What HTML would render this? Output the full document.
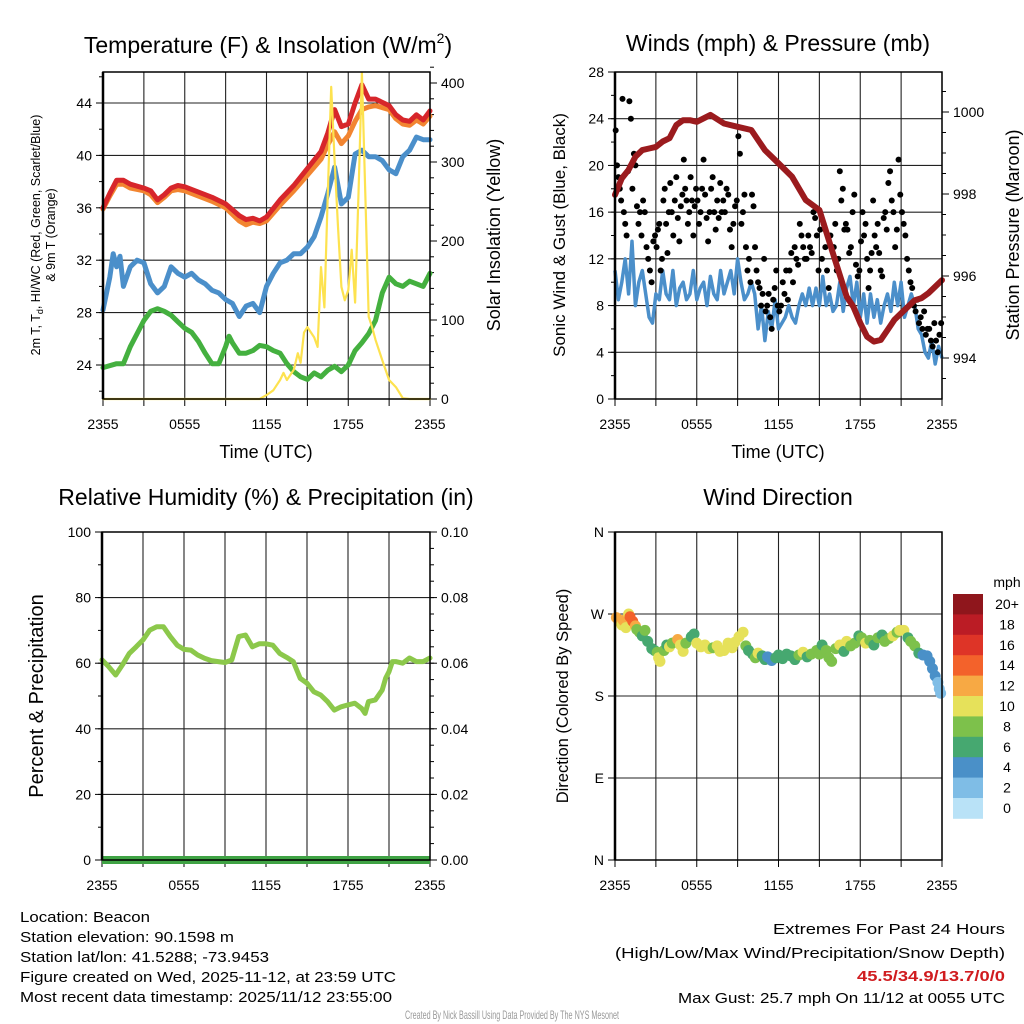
<!DOCTYPE html>
<html><head><meta charset="utf-8"><title>Beacon Mesonet Meteogram</title>
<style>
html,body{margin:0;padding:0;background:#fff;}
svg{display:block;font-family:"Liberation Sans",Arial,sans-serif;}
.tk{font-size:14px;fill:#000;}
.ttl{font-size:23px;fill:#000;}
.ax{font-size:18px;fill:#000;}
.ft{font-size:14.5px;fill:#000;}
</style></head>
<body>
<svg id="chart" width="1024" height="1024" viewBox="0 0 1024 1024" xmlns="http://www.w3.org/2000/svg">
<rect width="1024" height="1024" fill="#fff"/>
<text class="ttl" x="268" y="53" text-anchor="middle">Temperature (F) &amp; Insolation (W/m<tspan font-size="14" dy="-10">2</tspan><tspan dy="10">)</tspan></text>
<text class="ttl" x="778" y="51" text-anchor="middle">Winds (mph) &amp; Pressure (mb)</text>
<text class="ttl" x="266" y="505" text-anchor="middle">Relative Humidity (%) &amp; Precipitation (in)</text>
<text class="ttl" x="778" y="505" text-anchor="middle">Wind Direction</text>

<text class="ax" x="266" y="458" text-anchor="middle">Time (UTC)</text>
<text class="ax" x="778" y="458" text-anchor="middle">Time (UTC)</text>

<text font-size="12.5" text-anchor="middle" transform="translate(40,235) rotate(-90)">2m T, T<tspan font-size="9" dy="3">d</tspan><tspan dy="-3">, HI/WC (Red, Green, Scarlet/Blue)</tspan></text>
<text font-size="12.5" text-anchor="middle" transform="translate(55,235) rotate(-90)">&amp; 9m T (Orange)</text>
<text class="ax" text-anchor="middle" transform="translate(500,235) rotate(-90)">Solar Insolation (Yellow)</text>
<text font-size="17" text-anchor="middle" transform="translate(565,235) rotate(-90)">Sonic Wind &amp; Gust (Blue, Black)</text>
<text class="ax" text-anchor="middle" transform="translate(1019,235) rotate(-90)">Station Pressure (Maroon)</text>
<text font-size="20" text-anchor="middle" transform="translate(43,696) rotate(-90)">Percent &amp; Precipitation</text>
<text font-size="16.5" text-anchor="middle" transform="translate(568,696) rotate(-90)">Direction (Colored By Speed)</text>

<g id="layer"></g>

<g>
<text class="ft" x="20" y="922" textLength="130" lengthAdjust="spacingAndGlyphs">Location: Beacon</text>
<text class="ft" x="20" y="942" textLength="214" lengthAdjust="spacingAndGlyphs">Station elevation: 90.1598 m</text>
<text class="ft" x="20" y="962" textLength="249" lengthAdjust="spacingAndGlyphs">Station lat/lon: 41.5288; -73.9453</text>
<text class="ft" x="20" y="982" textLength="376" lengthAdjust="spacingAndGlyphs">Figure created on Wed, 2025-11-12, at 23:59 UTC</text>
<text class="ft" x="20" y="1002" textLength="372" lengthAdjust="spacingAndGlyphs">Most recent data timestamp: 2025/11/12 23:55:00</text>
</g>
<g>
<text class="ft" x="1005" y="934" text-anchor="end" textLength="232" lengthAdjust="spacingAndGlyphs">Extremes For Past 24 Hours</text>
<text class="ft" x="1005" y="958" text-anchor="end" textLength="390" lengthAdjust="spacingAndGlyphs">(High/Low/Max Wind/Precipitation/Snow Depth)</text>
<text class="ft" x="1005" y="981" text-anchor="end" font-weight="bold" fill="#d01c1f" style="fill:#d01c1f" textLength="148" lengthAdjust="spacingAndGlyphs">45.5/34.9/13.7/0/0</text>
<text class="ft" x="1005" y="1003" text-anchor="end" textLength="327" lengthAdjust="spacingAndGlyphs">Max Gust: 25.7 mph On 11/12 at 0055 UTC</text>
</g>
<text x="512" y="1019" font-size="12" fill="#999" text-anchor="middle" textLength="214" lengthAdjust="spacingAndGlyphs">Created By Nick Bassill Using Data Provided By The NYS Mesonet</text>
</svg>
<script>
// ---------- data ----------
const timeTickLabels = ["2355","0555","1155","1755","2355"];
const tempTicks = [24,28,32,36,40,44];
const solarTicks = [0,100,200,300,400];
const windTicks = [0,4,8,12,16,20,24,28];
const pressTicks = [994,996,998,1000];
const rhTicks = [0,20,40,60,80,100];
const precipTicks = ["0.00","0.02","0.04","0.06","0.08","0.10"];
const dirTicks = ["N","E","S","W","N"];

const tempTimes = [0,0.5,1,1.5,2,3,3.5,4,4.5,5,5.5,6,7,8,9,10,10.5,11,11.5,12,13,14,15,16,16.5,17,17.5,18,18.5,19,19.5,20,21,21.5,22,22.5,23,23.5,24];
const temp2m = [36.0,37.1,38.1,38.1,37.8,37.5,37.3,36.6,37.0,37.5,37.7,37.6,37.2,36.8,36.3,35.4,35.1,35.2,35.0,35.3,36.6,37.7,39.0,40.3,41.7,43.5,42.2,42.4,44.0,45.4,44.3,44.3,43.8,43.1,42.7,42.6,43.1,42.7,43.4];
const temp9m = [35.9,36.9,37.8,37.8,37.5,37.3,37.0,36.4,36.8,37.3,37.4,37.3,36.9,36.5,36.0,35.0,34.7,34.9,34.8,35.0,36.2,37.3,38.5,39.7,40.8,41.8,40.9,41.5,42.6,43.5,43.7,43.8,43.5,42.8,42.4,42.3,42.7,42.4,43.0];
const dewTimes = [0,0.5,0.75,1,1.25,1.5,2,2.5,3,3.5,4,4.5,5,5.5,6,6.5,7,7.5,8,8.5,9,9.5,10,10.5,11,11.5,12,12.5,13,13.5,14,14.5,15,15.5,16,16.5,17,17.5,18,18.5,19,19.5,20,20.5,21,21.5,22,22.5,23,23.5,24];
const dewpoint = [28.2,30.7,32.5,31.5,32.3,30.0,31.5,32.0,31.8,30.2,29.5,30.0,31.5,31.0,30.7,31.0,30.5,30.2,29.7,29.5,29.0,28.7,27.7,28.5,28.7,28.0,30.0,31.0,31.8,32.0,32.5,32.5,33.0,33.8,35.3,37.1,39.1,36.3,36.8,40.1,40.4,39.9,39.9,39.6,38.9,38.6,39.9,40.4,41.4,41.2,41.2];
const chillTimes = [0,1,1.5,2,2.5,3,3.5,4,4.5,5,5.5,6,6.5,7,7.5,8,8.5,9,9.25,9.5,10,10.5,11,11.5,12,12.5,13,13.5,14,14.5,15,15.5,16,16.5,17,17.5,18,18.5,19,19.5,20,20.5,21,21.5,22,22.5,23,23.5,24];
const windChill = [23.8,24.1,24.1,25.4,26.4,27.4,28.1,28.3,28.1,27.8,27.3,26.8,26.5,25.8,24.9,24.1,24.1,25.4,26.2,25.7,24.9,24.9,25.1,25.5,25.4,25.1,24.9,24.1,23.5,23.1,22.9,23.4,23.1,23.6,23.9,23.5,24.0,25.1,25.7,26.4,27.4,29.5,30.7,30.2,30.0,30.4,30.2,30.0,31.0];
const solarTimes = [0,11.5,12,12.5,13,13.25,13.5,14,14.3,14.5,14.75,15,15.5,15.75,16,16.25,16.5,16.75,17,17.25,17.5,17.75,18,18.25,18.5,18.75,19,19.25,19.5,19.75,20,20.5,21,21.5,22,22.5,24];
const solar = [0,0,5,11,24,33,24,37,58,46,84,91,78,66,167,116,260,395,302,218,142,125,138,189,122,260,413,260,104,91,75,49,24,15,1,0,0];

const sonicWind = [11,8.5,10,12,9,13.5,8,10,11, 9,7,6.5,9,8.5,11,9,8.5, 11,8,9.5,10,8.5,9,11,8.5, 9.5,10,8,10.5,9,8.5,11,9, 10,11,9,12,10,8.5,9,10, 9,6,8,5,7.5,6,8.5,6, 6.5,7,8,7,6.5,8,9,8, 9.5,8,9.5,8,10.5,8,9,7.5, 8,10,7.5,9.5,10.5,8,10,7, 9,6.5,9,7,8.5,6.5,8,9, 7.5,10,8,10,7,8,9,8, 6,5.5,4,3.5,5,3,4.5,3.5];
const gustByHour = [
 [23,20,19,18,17,25.7,16,15,14,19.5],
 [25.5,24,18,21,20,16.5,15,16,14],
 [17,16,13,12,11,10,13.5,14],
 [13,14.5,15,11,12,17,18,15,12.5,16],
 [18.5,16,14,17,19,15.5,13.5,16.5,17.5],
 [20.5,18,17,15,16,19,17,14,16.5,18],
 [17,15,16,18,20.5,17.5,15.5,13.5,16],
 [18,19,16,14.5,17,15.5,18.5,16,17],
 [16,18,17.5,14.5,13,15,16.5,17],
 [22.5,21,15,16,17.5,13,11,12,10],
 [17.5,16.5,13,11,10,9.5,8,9,12],
 [7.5,8,9,7,6,8.5,9.5,11,8],
 [7.5,8,10,9,11,8.5,11,12.5],
 [10,13,12,11.5,15,14,13,12],
 [12,14,13,12.5,16,15.5,14,11],
 [14.5,12,15,13,11,9.5,14,13],
 [13,15,11,12,19.5,17,18,14.5,15],
 [14.5,12.5,13,16,17.5,11.5,10.5,11],
 [13.5,16,14,15,12,9.5,11,12.5,17],
 [14,13,15,12.5,11,10.5,15.5,16,14.5],
 [18.5,19.5,17,16,13,14.5,20.5,17.5],
 [16,15,14,12,11,10,9.5,8],
 [7.5,8.5,6.5,7,6,7.5,5.5,6],
 [6,5,4.5,6.5,5,4,5.5,6.5]
];
const pressTimes = [0,0.5,1,1.5,2,2.5,3,3.5,4,4.5,5,5.5,6,7,8,9,10,11,12,13,14,15,16,17,17.5,18,18.5,19,19.5,20,20.5,21,21.5,22,22.5,23,23.5,24];
const pressure = [997.98,998.38,998.59,998.91,999.07,999.11,999.15,999.28,999.36,999.68,999.80,999.80,999.76,999.93,999.72,999.64,999.56,999.07,998.75,998.42,997.85,997.61,996.55,995.50,995.25,994.85,994.52,994.40,994.44,994.68,994.93,995.09,995.25,995.41,995.46,995.58,995.74,995.90];

const rhTimes = [0,0.5,1,1.5,2,2.5,3,3.5,4,4.5,5,5.5,6,6.5,7,7.5,8,8.5,9,9.5,10,10.5,11,11.5,12,12.5,13,13.5,14,14.5,15,15.5,16,16.5,17,17.5,18,18.5,19,19.25,19.5,20,20.5,20.75,21,21.25,21.5,22,22.5,23,23.5,24];
const humidity = [61.0,58.9,56.4,59.5,63.0,65.0,67.1,70.1,71.1,71.1,68.1,65.5,64.2,64.0,62.5,61.5,60.8,60.5,60.2,61.0,68.1,68.6,65.0,65.9,65.9,65.5,63.0,61.8,60.5,55.4,53.9,51.3,50.3,48.3,45.7,46.7,47.3,47.8,46.2,44.7,48.3,48.8,51.8,55.4,57.4,60.5,60.5,60.0,61.6,60.5,60.5,61.6];
const precipTimes = [0,24];
const precip = [0,0];

const dirTimes = [0.1,0.3,0.5,0.6,0.8,1.0,1.1,1.3,1.5,1.6,1.8,2.0,2.2,2.4,2.7,2.9,3.1,3.2,3.3,3.6,3.8,4.0,4.2,4.5,4.6,4.8,5.0,5.2,5.6,5.8,6.0,6.3,6.6,6.9,7.2,7.5,7.7,8.0,8.3,8.6,8.8,9.1,9.4,9.6,9.8,10.1,10.3,10.5,10.8,11.0,11.2,11.5,11.8,12.0,12.3,12.6,12.9,13.2,13.5,13.8,14.1,14.4,14.8,15.0,15.2,15.5,15.7,15.9,16.2,16.5,16.8,17.0,17.3,17.6,17.9,18.1,18.4,18.7,19.0,19.3,19.6,19.8,20.1,20.4,20.7,20.9,21.2,21.5,21.7,22.0,22.3,22.6,22.9,23.1,23.3,23.5,23.7,23.8,23.9];
const dirDeg = [266,262,258,263,255,270,267,262,257,253,250,246,252,240,232,230,228,222,218,230,236,234,238,240,242,236,229,238,245,248,238,234,236,232,233,235,229,230,238,233,239,245,250,235,230,226,222,227,224,220,223,219,222,225,221,226,224,220,225,228,223,226,230,226,236,230,222,218,232,236,229,240,235,238,246,244,238,241,236,244,247,240,243,246,250,252,252,244,240,235,227,225,224,218,210,202,195,188,183];
const dirSpeed = [12,12,10,12,10,10,15,14,12,8,8,7,8,7,6,6,8,10,10,8,7,10,8,8,13,10,10,8,7,7,10,10,10,10,8,10,10,10,10,10,10,10,10,8,6,7,8,10,6,6,5,4,6,6,6,6,7,7,8,10,7,8,8,8,7,8,8,8,8,10,7,10,8,8,6,8,10,8,7,8,6,8,8,10,8,10,10,6,8,8,6,4,4,4,4,4,3,2,3];
const speedBins = ["0","2","4","6","8","10","12","14","16","18","20+"];
const speedColors = ["#b9e2f7","#7fbde6","#4a90c8","#46a870","#7dc14b","#e6e15a","#f7a944","#f3622b","#de3427","#bb1c25","#8f161c"];

// ---------- helpers ----------
const NS = "http://www.w3.org/2000/svg";
const layer = document.getElementById("layer");
function mk(tag, attrs, parent){
  const e = document.createElementNS(NS, tag);
  for (const k in attrs) e.setAttribute(k, attrs[k]);
  (parent || layer).appendChild(e);
  return e;
}
function linScale(d0,d1,r0,r1){ return v => r0 + (v-d0)/(d1-d0)*(r1-r0); }
function pathFrom(ts, vs, sx, sy){
  let d = "";
  for (let i=0;i<ts.length;i++) d += (i?"L":"M") + sx(ts[i]).toFixed(1) + "," + sy(vs[i]).toFixed(1);
  return d;
}

function panel(x0,y0,x1,y1,hGridYs,name){
  const g = mk("g",{});
  
  
  for (let i=0;i<=8;i++){
    const x = x0 + (x1-x0)*i/8;
    const l = mk("line",{x1:x,y1:y0,x2:x,y2:y1,stroke:"#222","stroke-width":1.1},g);
    
    
  }
  hGridYs.forEach(y=>{
    const l = mk("line",{x1:x0,y1:y,x2:x1,y2:y,stroke:"#222","stroke-width":1.1},g);
    
    
  });
  const sx = linScale(0,24,x0,x1);
  timeTickLabels.forEach((lab,i)=>{
    const x = sx(i*6);
    const t = mk("text",{x:x,y:y1+30,"text-anchor":"middle",class:"tk"},g);
    t.textContent = lab;
    
    
  });
  for (let i=0;i<=8;i++){
    const x = x0 + (x1-x0)*i/8;
    mk("line",{x1:x,y1:y1,x2:x,y2:y1+7,stroke:"#000","stroke-width":1},g);
  }
  return {g, sx};
}
function frame(g,x0,y0,x1,y1){
  const r = mk("rect",{x:x0,y:y0,width:x1-x0,height:y1-y0,fill:"none",stroke:"#000","stroke-width":1.5},g);
  
  
  mk("line",{x1:x0,y1:y0,x2:x0,y2:y1,stroke:"#000","stroke-width":2.5},g);
}
function yTicks(g, x, ticks, sy, side, minorStep, minorRange, labels){
  const dir = side==="left" ? -1 : 1;
  ticks.forEach((v,i)=>{
    const y = sy(v);
    mk("line",{x1:x,y1:y,x2:x+dir*7,y2:y,stroke:"#000","stroke-width":1},g);
    const t = mk("text",{x:x+dir*11,y:y+5,"text-anchor":side==="left"?"end":"start",class:"tk"},g);
    t.textContent = labels ? labels[i] : v;
    
    
  });
  if (minorStep){
    for (let v=minorRange[0]; v<=minorRange[1]+1e-9; v+=minorStep){
      const y = sy(v);
      mk("line",{x1:x,y1:y,x2:x+dir*4,y2:y,stroke:"#000","stroke-width":1},g);
    }
  }
}

// ---------- Panel 1: temperature ----------
(function(){
  const X0=103,Y0=72,X1=430,Y1=399;
  const syT = linScale(24,44,365,103);
  const syS = linScale(0,400,399,83);
  const p = panel(X0,Y0,X1,Y1,tempTicks.map(syT),"temperature");
  yTicks(p.g, X0, tempTicks, syT, "left", 2, [22,46]);
  yTicks(p.g, X1, solarTicks, syS, "right", 20, [0,420]);
  const series = [
    [chillTimes, windChill, "#44b03f", "wind-chill-line", syT, 5],
    [dewTimes, dewpoint, "#4b8fca", "dewpoint-line", syT, 5],
    [tempTimes, temp9m, "#f28531", "temp-9m-line", syT, 5],
    [tempTimes, temp2m, "#d7262b", "temp-2m-line", syT, 5],
    [solarTimes, solar, "#fde24f", "solar-line", syS, 2.2]
  ];
  series.forEach(s=>{
    const e = mk("path",{d:pathFrom(s[0],s[1],p.sx,s[4]),fill:"none",stroke:s[2],"stroke-width":s[5],"stroke-linejoin":"round","stroke-linecap":"round"},p.g);
    
    
  });
  frame(p.g,X0,Y0,X1,Y1);
})();

// ---------- Panel 2: winds ----------
(function(){
  const X0=615,Y0=72,X1=942,Y1=399;
  const syW = linScale(0,28,399,72);
  const syP = linScale(994,1000,358,112);
  const p = panel(X0,Y0,X1,Y1,windTicks.map(syW),"winds");
  yTicks(p.g, X0, windTicks, syW, "left", 2, [0,28]);
  yTicks(p.g, X1, pressTicks, syP, "right", 0.5, [993.5,1000.5]);
  const wt = sonicWind.map((v,i)=> i*24/(sonicWind.length-1));
  const w = mk("path",{d:pathFrom(wt,sonicWind,p.sx,syW),fill:"none",stroke:"#4b8fca","stroke-width":3.5,"stroke-linejoin":"round"},p.g);
  
  
  gustByHour.forEach((arr,h)=>{
    arr.forEach((v,j)=>{
      const t = h + (j+0.5)/arr.length;
      const c = mk("circle",{cx:p.sx(t),cy:syW(v),r:3,fill:"#000"},p.g);
      
      
    });
  });
  const pr = mk("path",{d:pathFrom(pressTimes,pressure,p.sx,syP),fill:"none",stroke:"#9b1b1e","stroke-width":6,"stroke-linejoin":"round","stroke-linecap":"round"},p.g);
  
  
  frame(p.g,X0,Y0,X1,Y1);
})();

// ---------- Panel 3: humidity ----------
(function(){
  const X0=102,Y0=532,X1=430,Y1=860;
  const syH = linScale(0,100,860,532);
  const p = panel(X0,Y0,X1,Y1,rhTicks.map(syH),"humidity");
  yTicks(p.g, X0, rhTicks, syH, "left", 10, [0,100]);
  yTicks(p.g, X1, rhTicks, syH, "right", 5, [0,100], precipTicks);
  const h = mk("path",{d:pathFrom(rhTimes,humidity,p.sx,syH),fill:"none",stroke:"#8cc84b","stroke-width":5,"stroke-linejoin":"round","stroke-linecap":"round"},p.g);
  
  
  const syPr = linScale(0,0.1,860,532);
  const pc = mk("path",{d:pathFrom(precipTimes,precip,p.sx,syPr),fill:"none",stroke:"#3fa344","stroke-width":8},p.g);
  
  
  frame(p.g,X0,Y0,X1,Y1);
})();

// ---------- Panel 4: wind direction ----------
(function(){
  const X0=615,Y0=532,X1=942,Y1=860;
  const syD = linScale(0,360,860,532);
  const dticks = [0,90,180,270,360];
  const p = panel(X0,Y0,X1,Y1,dticks.map(syD),"direction");
  yTicks(p.g, X0, dticks, syD, "left", 0, null, dirTicks);
  dirTimes.forEach((t,i)=>{
    const bin = Math.min(10, Math.floor(dirSpeed[i]/2));
    const c = mk("circle",{cx:p.sx(t),cy:syD(dirDeg[i]),r:5.5,fill:speedColors[bin]},p.g);
    
    
  });
  frame(p.g,X0,Y0,X1,Y1);
  const cb = mk("g",{});
  
  
  const top=594, bh=20.4;
  for (let i=0;i<speedBins.length;i++){
    const k = speedBins.length-1-i;
    const r = mk("rect",{x:953,y:top+i*bh,width:30,height:bh+0.4,fill:speedColors[k]},cb);
    
    
    const t = mk("text",{x:1007,y:top+i*bh+15,"text-anchor":"middle",class:"tk"},cb);
    t.textContent = speedBins[k];
    
    
  }
  const u = mk("text",{x:1007,y:587,"text-anchor":"middle",class:"tk"},cb);
  u.textContent = "mph";
  
  
})();
</script>
</body></html>
